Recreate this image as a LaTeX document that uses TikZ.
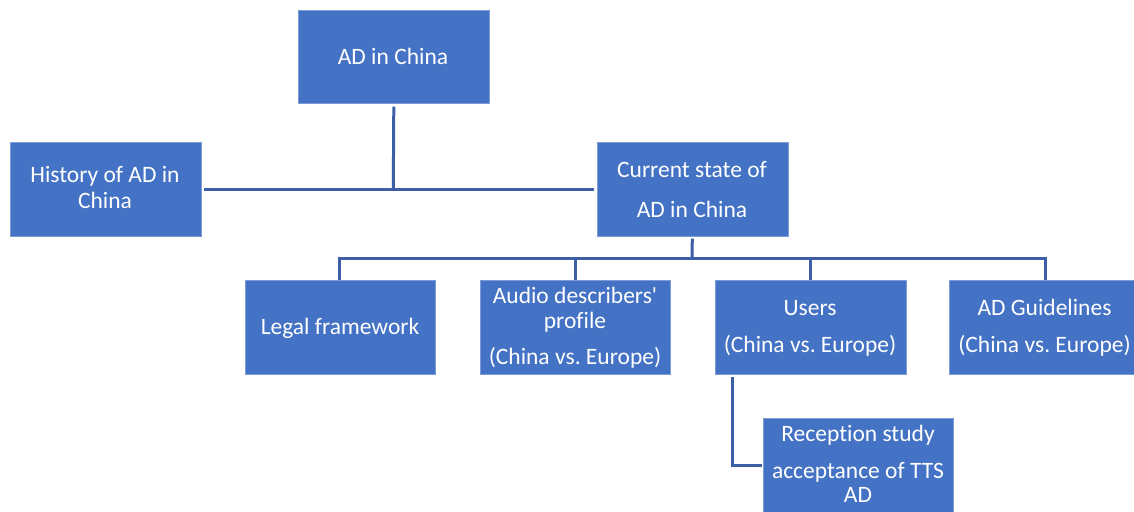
\documentclass[tikz,border=0pt]{standalone}
\usepackage{fontspec}
\setmainfont{Carlito}[Ligatures={NoCommon}]
\definecolor{boxblue}{HTML}{4472C4}
\definecolor{linkblue}{HTML}{3C5FA8}
\begin{document}
\frenchspacing
\begin{tikzpicture}[x=1pt,y=-1pt,
  box/.style={fill=boxblue,draw=boxblue!70!white,line width=0.6pt,inner sep=0pt,anchor=north west},
  txt/.style={text=white,font=\fontsize{23.5}{28}\selectfont\frenchspacing,anchor=base,inner sep=0pt},
  link/.style={draw=linkblue,line width=3pt}]
\useasboundingbox (0,0) rectangle (1134,511);
\begin{scope}
\clip (0,0) rectangle (1134,511);
% boxes
\node[box,minimum width=191pt,minimum height=93pt] (root) at (298,10) {};
\node[box,minimum width=191pt,minimum height=94pt] (hist) at (9.5,142) {};
\node[box,minimum width=191pt,minimum height=94pt] (curr) at (596.5,142) {};
\node[box,minimum width=190pt,minimum height=94pt] (legal) at (245,279.5) {};
\node[box,minimum width=190pt,minimum height=94pt] (prof) at (480,279.5) {};
\node[box,minimum width=191pt,minimum height=94pt] (users) at (714.5,279.5) {};
\node[box,minimum width=191pt,minimum height=94pt] (guide) at (949,279.5) {};
\node[box,minimum width=190pt,minimum height=96pt] (recep) at (763,417.5) {};
% texts
\node[txt] (t1) at (393,64) {AD in China};
\node[txt] (t2) at (105,182.5) {History of AD in};
\node[txt] (t3) at (105,208.5) {China};
\node[txt] (t4) at (692,177.5) {Current state of};
\node[txt] (t5) at (692,217) {AD in China};
\node[txt] (t6) at (340,334) {Legal framework};
\node[txt] (t7) at (575,303) {Audio describers\textquotesingle};
\node[txt] (t8) at (575,328) {profile};
\node[txt] (t9) at (575,364) {(China vs. Europe)};
\node[txt] (t10) at (810,315) {Users};
\node[txt] (t11) at (810,352) {(China vs. Europe)};
\node[txt] (t12) at (1044.5,315) {AD Guidelines};
\node[txt] (t13) at (1044.5,352) {(China vs. Europe)};
\node[txt] (t14) at (858,441) {Reception study};
\node[txt] (t15) at (858,478) {acceptance of TTS};
\node[txt] (t16) at (858,502.5) {AD};
% junctions
\coordinate (j1) at (393.3,188);
\coordinate (j2) at (692,258);
% connectors
\draw[link] ([yshift=-3pt]root.south) -- (j1);
\draw[link] ([xshift=3pt]hist.east) -- ([xshift=-3pt]curr.west);
\draw[link] ([yshift=-2pt]curr.south) -- (j2);
\draw[link] (legal.north -| 339.5,0) |- (j2) -| (guide.north -| 1045,0);
\draw[link] (j2 -| 575,0) -- (prof.north -| 575,0);
\draw[link] (j2 -| 810,0) -- (users.north -| 810,0);
\draw[link] ([xshift=18pt,yshift=-3pt]users.south west) |- ([xshift=-1pt]recep.west |- 0,465);
\end{scope}
\end{tikzpicture}
\end{document}
